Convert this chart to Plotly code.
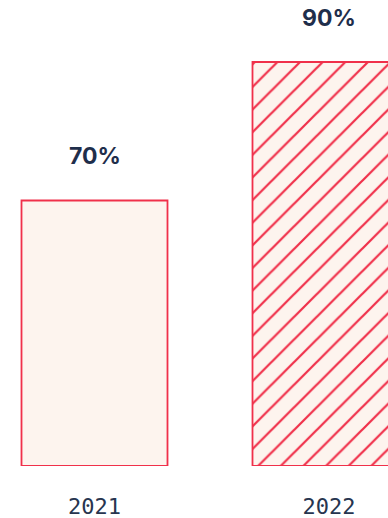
import plotly.graph_objects as go

years = ["2021", "2022"]
values = [70, 90]
labels = ["70%", "90%"]
patterns = ["", "/"]

BASE = 31.66
RED = "#f0304a"
CREAM = "#fdf4ee"
NAVY = "#1f2e4b"

fig = go.Figure()
fig.add_trace(go.Bar(
    x=years,
    y=[v - BASE for v in values],
    base=BASE,
    width=[0.6226, 0.6525],
    marker=dict(
        color=CREAM,
        line=dict(color=RED, width=1.8),
        pattern=dict(shape=patterns, fgcolor=RED, bgcolor=CREAM,
                     size=16, solidity=0.14, fillmode="replace"),
    ),
    hoverinfo="skip",
))

for i, (v, lab) in enumerate(zip(values, labels)):
    fig.add_annotation(x=i, y=v, xref="x", yref="y", text=f"<b>{lab}</b>",
                       showarrow=False, yanchor="middle", yshift=44,
                       font=dict(family="Inter", size=23, color=NAVY))

fig.update_layout(
    width=388, height=518,
    margin=dict(l=0, r=0, t=0, b=52),
    paper_bgcolor="white", plot_bgcolor="white",
    showlegend=False,
    xaxis=dict(type="category", range=[-0.403, 1.2516], showgrid=False,
               zeroline=False, showline=False, ticks="", ticklabelstandoff=25,
               automargin=False,
               tickfont=dict(family="DejaVu Sans Mono", size=22, color="#27354f")),
    yaxis=dict(range=[31.66, 98.95], visible=False, showgrid=False,
               automargin=False),
)

fig.write_html("out.html")
